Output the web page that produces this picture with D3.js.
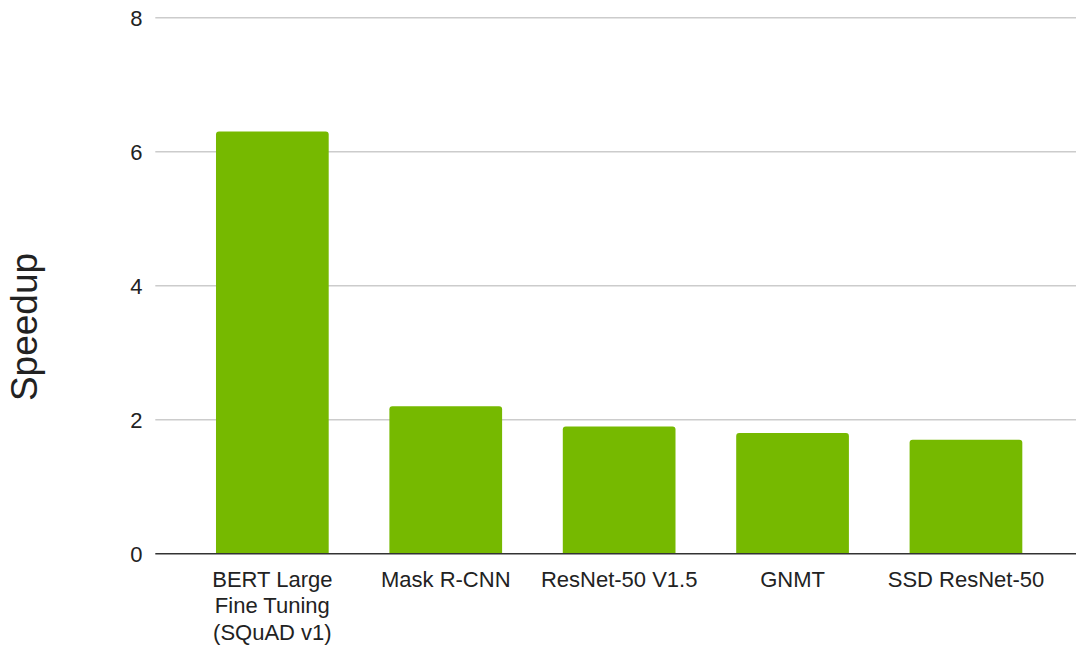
<!DOCTYPE html>
<html>
<head>
<meta charset="utf-8">
<script src="https://cdn.jsdelivr.net/npm/d3@7"></script>
<style>
  html, body { margin: 0; padding: 0; background: #fff; }
  svg { display: block; }
  text { font-family: "Liberation Sans", Arial, sans-serif; fill: #222; }
</style>
</head>
<body>
<svg id="chart" width="1076" height="646"></svg>
<script>
const categories = [
  ["BERT Large", "Fine Tuning", "(SQuAD v1)"],
  ["Mask R-CNN"],
  ["ResNet-50 V1.5"],
  ["GNMT"],
  ["SSD ResNet-50"]
];
const speedup = [6.3, 2.2, 1.9, 1.8, 1.7];
const yTicks = [0, 2, 4, 6, 8];
const yTitle = "Speedup";

(function () {
const W = 1076, H = 646;
const plotLeft = 155.3, plotTop = 17.7, plotBottom = 553.7;
const svg = d3.select("#chart");

const keys = categories.map(c => c.join(" "));
const x = d3.scaleBand().domain(keys).range([plotLeft, 1083]).paddingInner(0.35).paddingOuter(0.35);
const y = d3.scaleLinear().domain([0, 8]).range([plotBottom, plotTop]);

// gridlines
svg.append("g").selectAll("line").data(yTicks.filter(d => d !== 0)).join("line")
  .attr("x1", plotLeft).attr("x2", W)
  .attr("y1", d => y(d)).attr("y2", d => y(d))
  .attr("stroke", "#cccccc").attr("stroke-width", 1.5);

// y tick labels
svg.append("g").selectAll("text").data(yTicks).join("text")
  .attr("x", 142.5).attr("y", d => y(d)).attr("dy", "0.36em")
  .attr("text-anchor", "end").attr("font-size", 22)
  .text(d => d);

// bars with rounded top corners
const r = 3;
svg.append("g").selectAll("path").data(speedup).join("path")
  .attr("fill", "#76b900")
  .attr("d", (d, i) => {
    const x0 = x(keys[i]), bw = x.bandwidth(), yt = y(d), yb = y(0);
    return `M${x0},${yb}V${yt + r}Q${x0},${yt} ${x0 + r},${yt}H${x0 + bw - r}Q${x0 + bw},${yt} ${x0 + bw},${yt + r}V${yb}Z`;
  });

// baseline
svg.append("line").attr("x1", plotLeft).attr("x2", W).attr("y1", y(0)).attr("y2", y(0))
  .attr("stroke", "#333").attr("stroke-width", 1.6);

// x labels
const xl = svg.append("g").selectAll("text").data(categories).join("text")
  .attr("text-anchor", "middle").attr("font-size", 22)
  .attr("transform", (d, i) => `translate(${x(keys[i]) + x.bandwidth() / 2},586.5)`);
xl.selectAll("tspan").data(d => d).join("tspan")
  .attr("x", 0).attr("dy", (d, j) => j === 0 ? 0 : 26.7).text(d => d);

// y title
svg.append("text").attr("transform", "translate(36.5,327) rotate(-90)")
  .attr("text-anchor", "middle").attr("font-size", 37).text(yTitle);
})();
</script>
</body>
</html>
